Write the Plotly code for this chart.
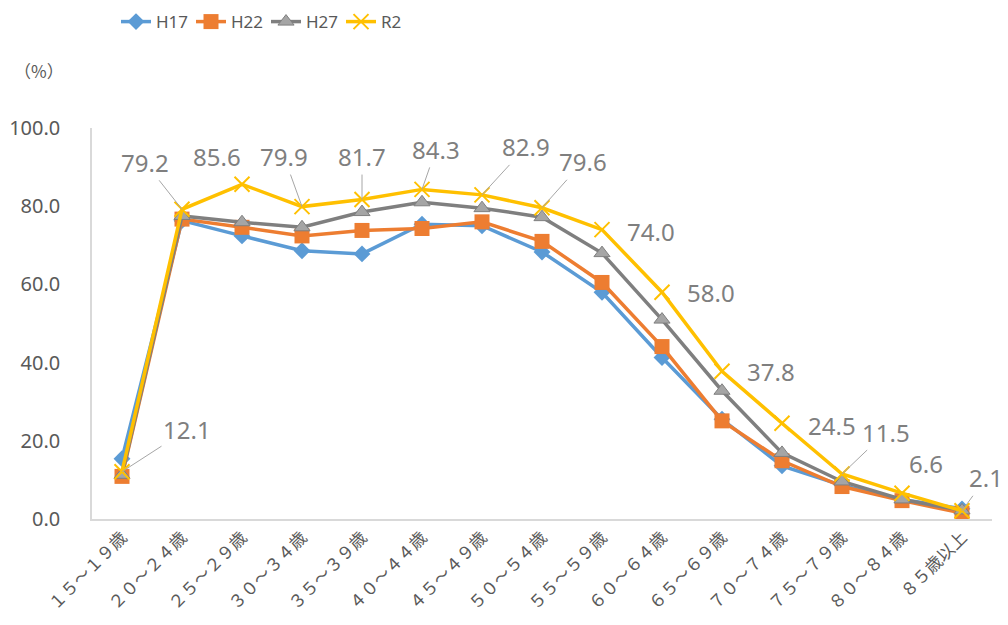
import plotly.graph_objects as go

categories = ["１５～１９歳", "２０～２４歳", "２５～２９歳", "３０～３４歳", "３５～３９歳", "４０～４４歳",
              "４５～４９歳", "５０～５４歳", "５５～５９歳", "６０～６４歳", "６５～６９歳", "７０～７４歳",
              "７５～７９歳", "８０～８４歳", "８５歳以上"]
h17 = [15.4, 76.3, 72.4, 68.6, 67.8, 75.4, 75.0, 68.3, 58.0, 41.3, 25.5, 13.6, 8.6, 5.0, 2.6]
h22 = [10.9, 76.7, 74.6, 72.4, 73.8, 74.3, 76.0, 71.0, 60.5, 44.1, 25.1, 14.9, 8.3, 4.7, 1.5]
h27 = [11.3, 77.5, 75.9, 74.6, 78.5, 81.0, 79.5, 77.2, 68.0, 51.0, 32.8, 16.9, 9.6, 5.0, 2.2]
r2 = [12.1, 79.2, 85.6, 79.9, 81.7, 84.3, 82.9, 79.6, 74.0, 58.0, 37.8, 24.5, 11.5, 6.6, 2.1]
y_ticks = [0, 20, 40, 60, 80, 100]

# label offsets (pixels, text centre relative to point) and whether a leader line is drawn
label_dx = [65, -37, -25, -18, 0, 14, 44, 41, 49, 49, 49, 50, 44, 24, 24]
label_dy = [-42, -47, -28, -50, -43, -40, -48, -46, 2, 0, 0, 2, -42, -30, -33]
leader = [True, True, False, True, True, True, True, True, False, False, False, False, True, False, True]

fig = go.Figure()
series = [
    ("H17", h17, "#5b9bd5", dict(symbol="diamond", size=13, color="#5b9bd5")),
    ("H22", h22, "#ed7d31", dict(symbol="square", size=15, color="#ed7d31")),
    ("H27", h27, "#7f7f7f", dict(symbol="triangle-up", size=14, color="#a5a5a5",
                                  line=dict(color="#7f7f7f", width=1))),
    ("R2", r2, "#ffc000", dict(symbol="x-thin", size=15, color="#ffc000",
                                line=dict(color="#ffc000", width=2))),
]
for name, vals, col, mk in series:
    fig.add_trace(go.Scatter(x=categories, y=vals, name=name, mode="lines+markers",
                             line=dict(color=col, width=3.5), marker=mk))

annotations = []
for i, v in enumerate(r2):
    txt = f"{v:.1f}"
    if leader[i]:
        annotations.append(dict(x=categories[i], y=v, xref="x", yref="y", text=txt,
                                showarrow=True, ax=label_dx[i], ay=label_dy[i],
                                arrowhead=0, arrowwidth=1, arrowcolor="#a6a6a6", standoff=0,
                                font=dict(size=24, color="#7f7f7f", family="Noto Sans")))
    else:
        annotations.append(dict(x=categories[i], y=v, xref="x", yref="y", text=txt,
                                showarrow=False, xshift=label_dx[i], yshift=-label_dy[i],
                                font=dict(size=24, color="#7f7f7f", family="Noto Sans")))
annotations.append(dict(xref="paper", yref="paper", x=-0.089, y=1.148, xanchor="left",
                        yanchor="middle", text="（%）", showarrow=False,
                        font=dict(size=17, color="#595959", family="Noto Sans CJK JP")))

fig.update_layout(
    width=1000, height=617,
    margin=dict(l=84, r=16, t=120, b=106, autoexpand=False),
    paper_bgcolor="white", plot_bgcolor="white",
    font=dict(family="Noto Sans CJK JP", color="#595959"),
    showlegend=True,
    legend=dict(orientation="h", xref="container", yref="paper", x=0.108, y=1.271,
                xanchor="left", yanchor="middle",
                font=dict(size=17, color="#595959", family="Liberation Sans Narrow, Noto Sans"),
                itemwidth=30, tracegroupgap=0, entrywidth=30, entrywidthmode="pixels"),
    annotations=annotations,
)
fig.update_xaxes(showline=True, linecolor="#d9d9d9", linewidth=1.5, showgrid=False,
                 range=[-0.5, 14.5], automargin=False,
                 tickangle=-45, tickfont=dict(size=17, color="#595959", family="Noto Sans CJK JP"),
                 ticks="", zeroline=False)
fig.update_yaxes(range=[0, 100], tickvals=y_ticks, tickformat=".1f", showline=True,
                 linecolor="#d9d9d9", linewidth=1.5, showgrid=False, zeroline=False,
                 ticks="", ticklabelstandoff=26, automargin=False,
                 tickfont=dict(size=20, color="#595959", family="Noto Sans"))
fig.write_html("out.html")
